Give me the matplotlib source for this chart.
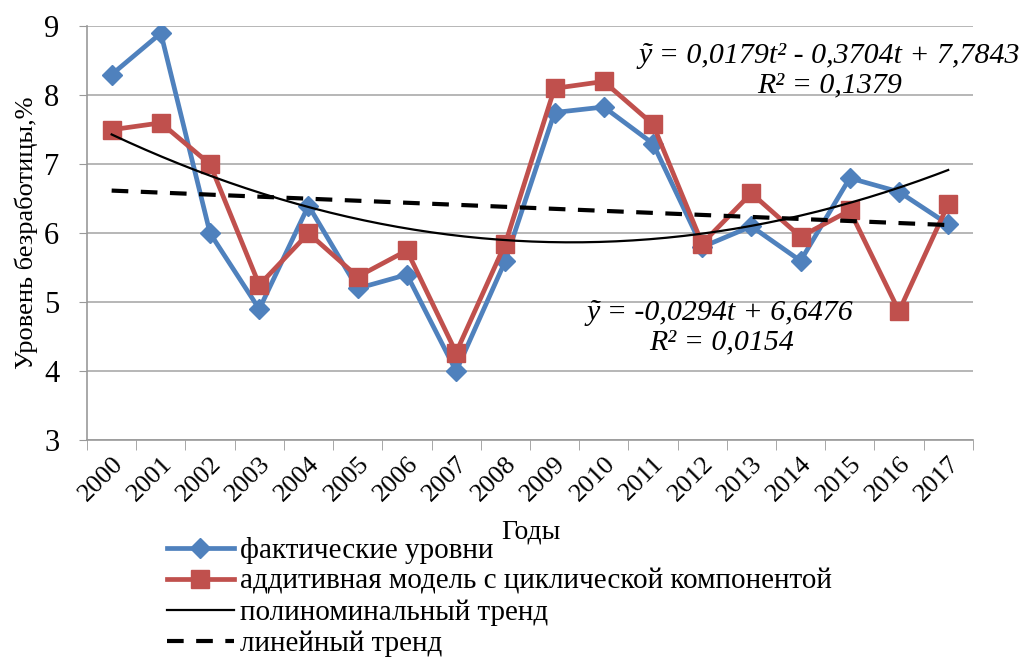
import matplotlib.pyplot as plt
import numpy as np

years = [str(y) for y in range(2000, 2018)]
actual = [8.3, 8.9, 6.0, 4.9, 6.4, 5.2, 5.4, 4.0, 5.6, 7.75, 7.83, 7.3,
          5.8, 6.1, 5.6, 6.8, 6.6, 6.13]
model = [7.5, 7.6, 7.0, 5.25, 6.0, 5.37, 5.75, 4.27, 5.85, 8.1, 8.2, 7.58,
         5.85, 6.58, 5.95, 6.33, 4.87, 6.42]
poly_coef = [0.0179, -0.3704, 7.7843]
lin_coef = [-0.0294, 6.6476]

plt.rcParams['font.family'] = ['Liberation Serif', 'DejaVu Serif']

fig = plt.figure(figsize=(10.24, 6.57), dpi=100)
ax = fig.add_axes([0.085, 0.330, 0.865, 0.630])

x = np.arange(len(years))
t = np.linspace(1, len(years), 200)

l1, = ax.plot(x, actual, color='#4F81BD', lw=3.4, marker='D', ms=10,
              label='фактические уровни')
l2, = ax.plot(x, model, color='#C0504D', lw=3.4, marker='s', ms=12.5,
              label='аддитивная модель с циклической компонентой')
l3, = ax.plot(t - 1, np.polyval(poly_coef, t), color='black', lw=1.6,
              label='полиноминальный тренд')
l4, = ax.plot(t - 1, np.polyval(lin_coef, t), color='black', lw=3,
              ls=(0, (4, 3)), label='линейный тренд')

ax.set_xlim(-0.5, len(years) - 0.5)
ax.set_ylim(3, 9)
ax.set_yticks(range(3, 10))
ax.tick_params(axis='y', labelsize=22, length=6, color='#999999', pad=14)
ax.grid(axis='y', color='#AAAAAA', lw=1.2)
ax.set_axisbelow(True)

ax.set_xticks(x)
ax.set_xticklabels(years, rotation=45, ha='right', rotation_mode='anchor',
                   fontsize=19)
ax.tick_params(axis='x', length=0, pad=9)
ax.set_xticks(np.arange(-0.5, len(years)), minor=True)
ax.tick_params(axis='x', which='minor', length=7, color='#999999')

for s in ['top', 'right']:
    ax.spines[s].set_visible(False)
for s in ['left', 'bottom']:
    ax.spines[s].set_color('#999999')
    ax.spines[s].set_linewidth(1.2)

ax.set_ylabel('Уровень безработицы,%', fontsize=19, labelpad=4)
fig.text(0.518, 0.190, 'Годы', fontsize=20, ha='center', va='center')

ax.text(0.81, 0.915, 'ỹ = 0,0179t² - 0,3704t + 7,7843', transform=fig.transFigure,
        fontsize=21.5, style='italic', ha='center', va='center')
ax.text(0.81, 0.870, 'R² = 0,1379', transform=fig.transFigure,
        fontsize=21.5, style='italic', ha='center', va='center')
ax.text(0.703, 0.523, 'ỹ = -0,0294t + 6,6476', transform=fig.transFigure,
        fontsize=21.5, style='italic', ha='center', va='center')
ax.text(0.705, 0.479, 'R² = 0,0154', transform=fig.transFigure,
        fontsize=21.5, style='italic', ha='center', va='center')

fig.legend(handles=[l1, l2, l3, l4], loc='upper left',
           bbox_to_anchor=(0.163, 0.183), frameon=False, fontsize=21,
           handlelength=2.3, handletextpad=0.2, labelspacing=0.16,
           borderaxespad=0, borderpad=0)

fig.savefig('out.png', dpi=100)
